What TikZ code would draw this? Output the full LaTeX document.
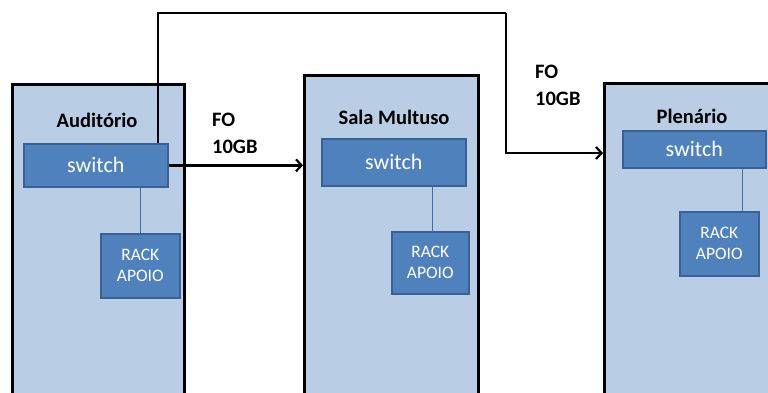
\documentclass[tikz,border=0pt]{standalone}
\usepackage{fontspec}
\setmainfont{Carlito}
\usetikzlibrary{arrows.meta,positioning}
\definecolor{roomfill}{HTML}{B9CDE5}
\definecolor{swfill}{HTML}{4F81BD}
\definecolor{swline}{HTML}{3A6193}
\begin{document}
\begin{tikzpicture}[x=1pt,y=-1pt,
	room/.style={draw=black,line width=3.3pt,fill=roomfill,anchor=north west,inner sep=0pt},
	title/.style={font=\fontsize{20.5}{22}\selectfont\bfseries},
	sw/.style={draw=swline,line width=1.6pt,fill=swfill,text=white,anchor=north west,
		inner sep=0pt,font=\fontsize{22}{24}\selectfont},
	rack/.style={draw=swline,line width=1.6pt,fill=swfill,text=white,anchor=north west,
		inner sep=0pt,align=center,font=\fontsize{17.5}{21}\selectfont},
	fo/.style={line width=2.6pt,-{Straight Barb[length=5.5pt,width=12pt,line width=2.2pt]}},
	lbl/.style={align=left,anchor=north west,inner sep=0pt,font=\fontsize{20.5}{27}\selectfont\bfseries},
	link/.style={draw=swfill!85!black,line width=1pt}]
	\useasboundingbox (0,0) rectangle (768,392);
	\clip (0,0) rectangle (768,392);
	% salas
	\node[room,minimum width=172pt,minimum height=330pt] (room1) at (11,83) {};
	\node[room,minimum width=174pt,minimum height=340pt] (room2) at (303,74) {};
	\node[room,minimum width=180pt,minimum height=330pt] (room3) at (603,82) {};
	\node[title] (t1) at (97,120) {Auditório};
	\node[title] (t2) at (394,117) {Sala Multuso};
	\node[title] (t3) at (692,116) {Plenário};
	% switches
	\node[sw,minimum width=144pt,minimum height=43pt] (sw1) at (23,143) {switch};
	\node[sw,minimum width=144pt,minimum height=47pt] (sw2) at (321,138) {switch};
	\node[sw,minimum width=143pt,minimum height=37pt] (sw3) at (622,130) {switch};
	\node[rack,minimum width=79pt,minimum height=64pt] (rack1) at (100,233) {RACK\\APOIO};
	\node[rack,minimum width=77pt,minimum height=62pt] (rack2) at (391,231) {RACK\\APOIO};
	\node[rack,minimum width=79pt,minimum height=64pt] (rack3) at (679,211) {RACK\\APOIO};
	\draw[link] (sw1.south -| 140,0) -- (rack1.north -| 140,0);
	\draw[link] (sw2.south -| 432,0) -- (rack2.north -| 432,0);
	\draw[link] (sw3.south -| 742,0) -- (rack3.north -| 742,0);
	% fibra
	\coordinate (up) at (158,13);
	\coordinate (turn) at (506,13);
	\coordinate (in3) at (603,153);
	\draw[fo] (sw1.east) -- (sw1.east -| room2.west);
	\draw[fo,-] (sw1.north -| up) -- (up) -- (turn);
	\draw[fo] (turn) |- (in3);
	\node[lbl] (fo1) at (212,113) {FO\\10GB};
	\node[lbl] (fo2) at (535,65) {FO\\10GB};
\end{tikzpicture}
\end{document}
